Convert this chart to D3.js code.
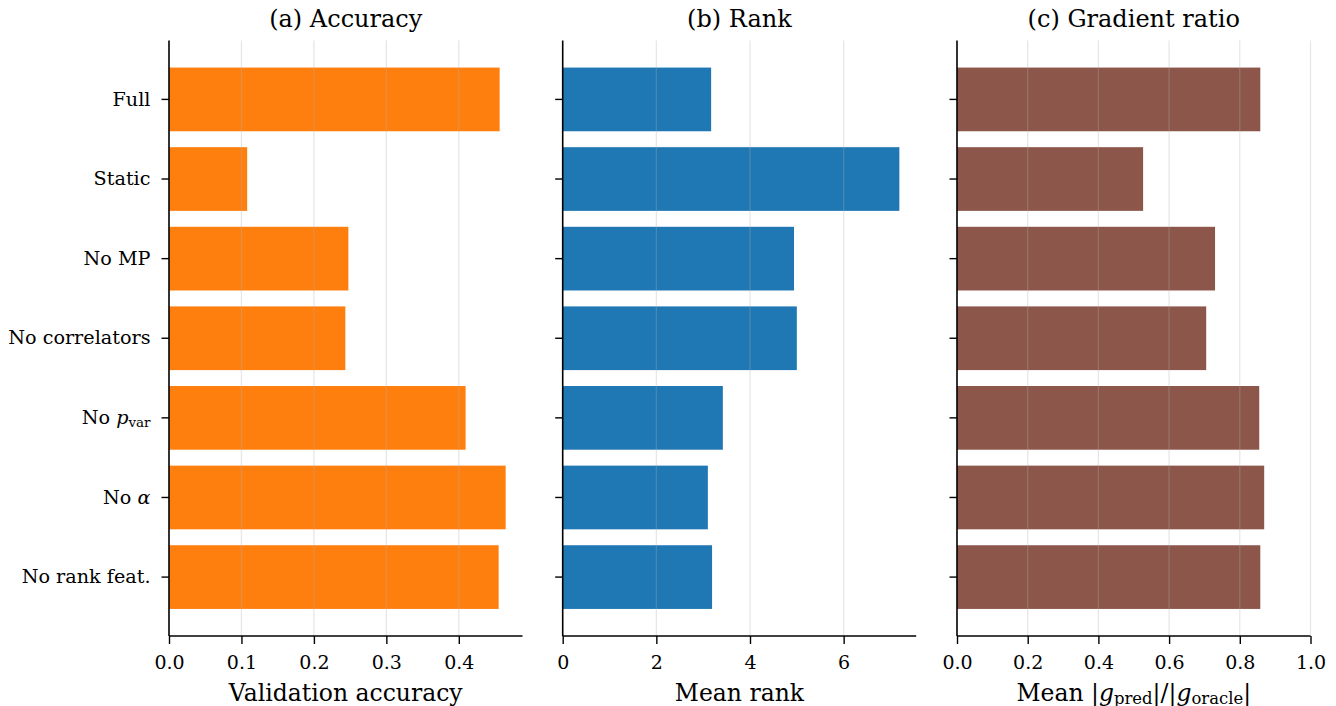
<!DOCTYPE html>
<html>
<head>
<meta charset="utf-8">
<script src="https://cdn.jsdelivr.net/npm/d3@7"></script>
<style>
  html, body { margin: 0; padding: 0; background: #ffffff; }
  svg { display: block; }
  text { font-family: "DejaVu Serif", serif; fill: #000; }
</style>
</head>
<body>
<svg id="chart" width="1336" height="706"></svg>
<script>
// Ablation variants, top to bottom
const categories = ["Full", "Static", "No MP", "No correlators", "No p_var", "No alpha", "No rank feat."];

// Per-panel measurements for each variant
const accuracy  = [0.4564, 0.1079, 0.2476, 0.2434, 0.4094, 0.4647, 0.4550];
const meanRank  = [3.17, 7.19, 4.94, 5.00, 3.42, 3.10, 3.19];
const gradRatio = [0.858, 0.5265, 0.730, 0.705, 0.855, 0.869, 0.858];

// Tick values for each panel's x axis
const accuracyTicks = [0.0, 0.1, 0.2, 0.3, 0.4];
const rankTicks     = [0, 2, 4, 6];
const gradTicks     = [0.0, 0.2, 0.4, 0.6, 0.8, 1.0];

const panelTitles = ["(a) Accuracy", "(b) Rank", "(c) Gradient ratio"];

// Rich-text pieces for labels that carry math (italic symbols, subscripts)
const richLabels = {
  "No p_var": [["No ", "n"], ["p", "i"], ["var", "sub"]],
  "No alpha": [["No ", "n"], ["α", "i"]],
  "grad": [["Mean |", "n"], ["g", "i"], ["pred", "sub"], ["|/|", "n"], ["g", "i"], ["oracle", "sub"], ["|", "n"]]
};

const FS_YTICK = 19.2, FS_XTICK = 19, FS_TITLE = 24, FS_XLABEL = 23.5;

const svg = d3.select("#chart");
const plotTop = 40.5, plotBottom = 636;
const panelW = 353.5;
const panels = [
  { left: 169,   values: accuracy,  ticks: accuracyTicks, max: d3.max(accuracy) * 1.05, fmt: d3.format(".1f"), color: "#ff7f0e", xlabel: "Validation accuracy", showY: true },
  { left: 562.7, values: meanRank,  ticks: rankTicks,     max: d3.max(meanRank) * 1.05, fmt: d3.format("d"),   color: "#1f77b4", xlabel: "Mean rank", showY: false },
  { left: 957,   values: gradRatio, ticks: gradTicks,     max: 1.0,                      fmt: d3.format(".1f"), color: "#8c564b", xlabel: "grad", showY: false }
];

function writeRich(sel, key, size) {
  const parts = richLabels[key];
  if (!parts) { sel.text(key); return; }
  sel.text(null);
  let sub = false;
  parts.forEach(([t, kind]) => {
    const ts = sel.append("tspan").text(t);
    if (kind === "i") ts.attr("font-style", "italic");
    if (kind === "sub") {
      ts.attr("font-size", size * 0.7);
      if (!sub) ts.attr("dy", size * 0.17);
      sub = true;
    } else if (sub) {
      ts.attr("dy", -size * 0.17);
      sub = false;
    }
  });
}

const y = d3.scaleBand()
  .domain(categories)
  .range([plotTop, plotBottom])
  .paddingInner(0.2)
  .paddingOuter(0.34);

panels.forEach((p, k) => {
  const x = d3.scaleLinear().domain([0, p.max]).range([p.left, p.left + panelW]);
  const g = svg.append("g");

  // Bars
  g.selectAll("rect.bar")
    .data(p.values)
    .join("rect")
    .attr("class", "bar")
    .attr("x", x(0))
    .attr("y", (d, i) => y(categories[i]))
    .attr("width", d => x(d) - x(0))
    .attr("height", y.bandwidth())
    .attr("fill", p.color);

  // Vertical grid, drawn over the bars with transparency
  g.selectAll("line.grid")
    .data(p.ticks.filter(t => t > 0))
    .join("line")
    .attr("class", "grid")
    .attr("x1", d => x(d)).attr("x2", d => x(d))
    .attr("y1", plotTop).attr("y2", plotBottom)
    .attr("stroke", "#b0b0b0")
    .attr("stroke-opacity", 0.3)
    .attr("stroke-width", 1.3);

  // X axis
  const xAxis = g.append("g")
    .attr("transform", `translate(0,${plotBottom})`)
    .call(d3.axisBottom(x).tickValues(p.ticks).tickFormat(p.fmt).tickSizeOuter(0).tickSize(8).tickPadding(12));
  xAxis.select(".domain").attr("stroke", "#000").attr("stroke-width", 1.6)
    .attr("d", `M${x(0)},0H${x(p.max)}`);
  xAxis.selectAll(".tick line").attr("stroke", "#000").attr("stroke-width", 1.4);
  xAxis.selectAll(".tick text").attr("font-size", FS_XTICK).attr("font-family", "DejaVu Serif").attr("fill", "#000");

  // Y axis
  const yAxis = g.append("g")
    .attr("transform", `translate(${x(0)},0)`)
    .call(d3.axisLeft(y).tickSizeOuter(0).tickSize(7.5).tickPadding(11));
  yAxis.select(".domain").attr("stroke", "#000").attr("stroke-width", 1.6)
    .attr("d", `M0,${plotTop}V${plotBottom}`);
  yAxis.selectAll(".tick line").attr("stroke", "#000").attr("stroke-width", 1.4);
  if (p.showY) {
    yAxis.selectAll(".tick text")
      .attr("font-size", FS_YTICK).attr("font-family", "DejaVu Serif").attr("fill", "#000")
      .each(function(d) { writeRich(d3.select(this), d, FS_YTICK); });
  } else {
    yAxis.selectAll(".tick text").remove();
  }

  // Panel title
  svg.append("text")
    .attr("x", p.left + panelW / 2)
    .attr("y", 26.5)
    .attr("text-anchor", "middle")
    .attr("font-size", FS_TITLE)
    .text(panelTitles[k]);

  // X axis label
  const xl = svg.append("text")
    .attr("x", p.left + panelW / 2)
    .attr("y", 700.5)
    .attr("text-anchor", "middle")
    .attr("font-size", FS_XLABEL);
  writeRich(xl, p.xlabel, FS_XLABEL);
});
</script>
</body>
</html>
